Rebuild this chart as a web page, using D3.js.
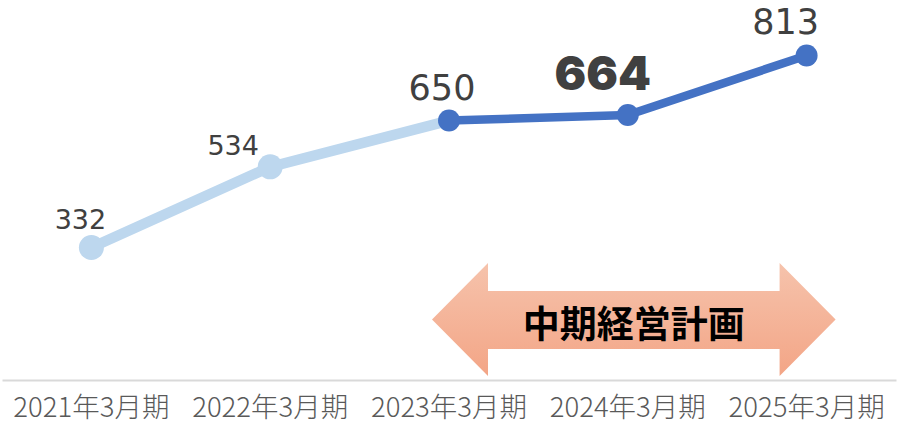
<!DOCTYPE html>
<html>
<head>
<meta charset="utf-8">
<script src="https://cdn.jsdelivr.net/npm/d3@7"></script>
<style>
  body { margin: 0; background: #fff; }
  text { font-family: "Noto Sans CJK JP", "Noto Sans", sans-serif; }
</style>
</head>
<body>
<div id="chart"></div>
<script>
// Chart data
const categories = ["2021年3月期", "2022年3月期", "2023年3月期", "2024年3月期", "2025年3月期"];
const values = [332, 534, 650, 664, 813];
// first 3 points are actuals (light), from index 2 onward is the plan (dark)
const actualIdx = [0, 1, 2];
const planIdx = [2, 3, 4];
const planLabel = "中期経営計画";

const w = 898, h = 427;

const svg = d3.select("#chart").append("svg")
  .attr("width", w)
  .attr("height", h);

// Scales
const x = d3.scaleBand()
  .domain(categories)
  .range([2, 896]);

const y = d3.scaleLinear()
  .domain([0, 952])
  .range([380, 0]);

const cx = (i) => x(categories[i]) + x.bandwidth() / 2;
const cy = (i) => y(values[i]);

// Gradient for the arrow
const defs = svg.append("defs");
const grad = defs.append("linearGradient")
  .attr("id", "arrowGrad")
  .attr("x1", 0).attr("y1", 0).attr("x2", 0).attr("y2", 1);
grad.append("stop").attr("offset", "0%").attr("stop-color", "#F6C3AC");
grad.append("stop").attr("offset", "100%").attr("stop-color", "#F3A586");

// Double arrow over the plan period (drawn relative to the band positions)
const aLeft = cx(2) - 17, aRight = cx(4) + 29;
const headW = 56;
const aTop = 263, aBot = 376, sTop = 291, sBot = 349;
const aMid = (aTop + aBot) / 2;
const arrowPts = [
  [aLeft, aMid], [aLeft + headW, aTop], [aLeft + headW, sTop],
  [aRight - headW, sTop], [aRight - headW, aTop], [aRight, aMid],
  [aRight - headW, aBot], [aRight - headW, sBot], [aLeft + headW, sBot],
  [aLeft + headW, aBot]
];
svg.append("path")
  .attr("d", d3.line()(arrowPts) + "Z")
  .style("fill", "url(#arrowGrad)");

svg.append("text")
  .attr("x", (aLeft + aRight) / 2)
  .attr("y", 338)
  .attr("text-anchor", "middle")
  .style("font-size", "37px")
  .style("font-weight", "bold")
  .style("fill", "#000")
  .text(planLabel);

// Axis
const axis = svg.append("g")
  .attr("transform", `translate(0, ${y(0)})`)
  .call(d3.axisBottom(x).tickSize(0).tickPadding(17));
axis.select(".domain")
  .style("stroke", "#D9D9D9")
  .style("stroke-width", 2);
axis.selectAll(".tick text")
  .style("font-family", "'Noto Sans CJK JP', sans-serif")
  .style("font-size", "27.5px")
  .style("font-weight", 300)
  .style("fill", "#595959");

// Lines
const lineFn = d3.line()
  .x((i) => cx(i))
  .y((i) => cy(i));

svg.append("path")
  .attr("d", lineFn(actualIdx))
  .style("fill", "none")
  .style("stroke", "#BDD7EE")
  .style("stroke-width", 10.5);

svg.append("path")
  .attr("d", lineFn(planIdx))
  .style("fill", "none")
  .style("stroke", "#4472C4")
  .style("stroke-width", 8.5);

// Markers
svg.selectAll(".dotA")
  .data([0, 1])
  .enter().append("circle")
  .attr("cx", (i) => cx(i))
  .attr("cy", (i) => cy(i))
  .attr("r", 12.5)
  .style("fill", "#BDD7EE");

svg.selectAll(".dotB")
  .data(planIdx)
  .enter().append("circle")
  .attr("cx", (i) => cx(i))
  .attr("cy", (i) => cy(i))
  .attr("r", 11)
  .style("fill", "#4472C4");

// Value labels
const labelStyle = [
  { dx: -11, dy: -18, size: 27, bold: false },
  { dx: -37, dy: -12, size: 27, bold: false },
  { dx: -7, dy: -21, size: 35, bold: false },
  { dx: -25, dy: -25, size: 47, bold: true },
  { dx: -21, dy: -21, size: 35, bold: false }
];

svg.selectAll(".val")
  .data(values)
  .enter().append("text")
  .attr("class", "val")
  .attr("x", (d, i) => cx(i) + labelStyle[i].dx)
  .attr("y", (d, i) => cy(i) + labelStyle[i].dy)
  .attr("text-anchor", "middle")
  .style("font-family", (d, i) => labelStyle[i].bold ? "Inter, 'DejaVu Sans', sans-serif" : "'DejaVu Sans', sans-serif")
  .style("font-size", (d, i) => labelStyle[i].size + "px")
  .style("font-weight", (d, i) => labelStyle[i].bold ? 900 : "normal")
  .style("fill", "#404040")
  .text((d) => d);
</script>
</body>
</html>
